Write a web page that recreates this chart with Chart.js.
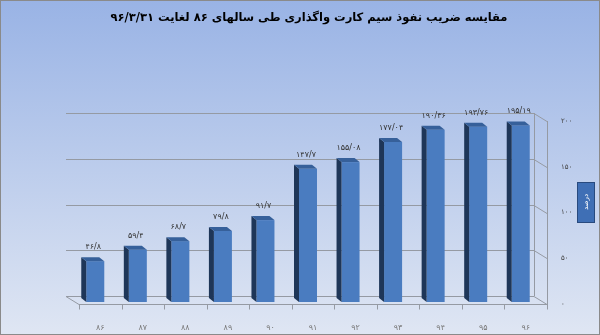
<!DOCTYPE html>
<html>
<head>
<meta charset="utf-8">
<script src="https://cdn.jsdelivr.net/npm/chart.js@4"></script>
<style>
  html, body { margin: 0; padding: 0; background: #fff; }
  #wrap { width: 600px; height: 335px; }
</style>
</head>
<body>
<div id="wrap"><canvas id="chart" width="600" height="335"></canvas></div>
<script>
// categories (years) and values
const years = ['۸۶', '۸۷', '۸۸', '۸۹', '۹۰', '۹۱', '۹۲', '۹۳', '۹۴', '۹۵', '۹۶'];
const penetration = [46.8, 59.4, 68.7, 79.8, 91.7, 147.7, 155.08, 177.04, 190.36, 193.76, 195.19];
const yTicks = [0, 50, 100, 150, 200];
const titleText = 'مقایسه ضریب نفوذ سیم کارت واگذاری طی سالهای ۸۶ لغایت ۹۶/۳/۳۱';
const axisTitle = 'درصد';

const FONT = '"DejaVu Sans", sans-serif';
const fa = s => String(s).replace(/[0-9]/g, d => '۰۱۲۳۴۵۶۷۸۹'[d]).replace('.', '/');

// depth offset of the back wall
const DX = -13, DY = -8;

const bgPlugin = {
  id: 'bg',
  beforeDraw(chart) {
    const ctx = chart.ctx;
    const g = ctx.createLinearGradient(0, 0, 0, 335);
    g.addColorStop(0, '#99b3e5');
    g.addColorStop(1, '#dfe6f3');
    ctx.save();
    ctx.fillStyle = g;
    ctx.fillRect(0, 0, 600, 335);
    ctx.strokeStyle = '#8a8a8a';
    ctx.lineWidth = 1;
    ctx.strokeRect(0.5, 0.5, 599, 334);
    ctx.restore();
  }
};

const wallPlugin = {
  id: 'wall',
  beforeDatasetsDraw(chart) {
    const ctx = chart.ctx, a = chart.chartArea, y = chart.scales.y;
    ctx.save();
    ctx.strokeStyle = '#959aa3';
    ctx.lineWidth = 1;
    // back gridlines and right connectors
    yTicks.forEach(v => {
      const py = Math.round(y.getPixelForValue(v)) + 0.5;
      ctx.beginPath();
      ctx.moveTo(a.left + DX, py + DY);
      ctx.lineTo(a.right + DX, py + DY);
      ctx.lineTo(a.right, py);
      ctx.stroke();
    });
    // back and front right verticals
    ctx.beginPath();
    ctx.moveTo(a.right + DX + 0.5, y.getPixelForValue(200) + DY);
    ctx.lineTo(a.right + DX + 0.5, y.getPixelForValue(0) + DY);
    ctx.moveTo(a.right + 0.5, y.getPixelForValue(200));
    ctx.lineTo(a.right + 0.5, y.getPixelForValue(0) + 5);
    ctx.stroke();
    // floor
    const b = Math.round(y.getPixelForValue(0)) + 0.5;
    ctx.beginPath();
    ctx.moveTo(a.left + DX, b + DY);
    ctx.lineTo(a.left, b);
    ctx.lineTo(a.right, b);
    ctx.stroke();
    // category ticks
    for (let i = 0; i <= years.length; i++) {
      const px = Math.round(a.left + i * (a.right - a.left) / years.length) + 0.5;
      ctx.beginPath();
      ctx.moveTo(px, b);
      ctx.lineTo(px, b + 5);
      ctx.stroke();
    }
    ctx.restore();
  }
};

const barPlugin = {
  id: 'bars3d',
  afterDatasetsDraw(chart) {
    const ctx = chart.ctx;
    const meta = chart.getDatasetMeta(0);
    ctx.save();
    meta.data.forEach((el, i) => {
      const cx = el.x - 5;
      const l = cx - 9, r = cx + 9, t = el.y, bot = el.base - 2;
      const d = 5, dy = 4;
      // front face
      ctx.fillStyle = '#4a7cc0';
      ctx.fillRect(l, t, r - l, bot - t);
      // dark left side
      ctx.fillStyle = '#1e3658';
      ctx.beginPath();
      ctx.moveTo(l - d, t - dy);
      ctx.lineTo(l, t);
      ctx.lineTo(l, bot);
      ctx.lineTo(l - d, bot - dy);
      ctx.closePath();
      ctx.fill();
      // top cap
      ctx.fillStyle = '#36609a';
      ctx.beginPath();
      ctx.moveTo(l - d, t - dy);
      ctx.lineTo(r - d, t - dy);
      ctx.lineTo(r, t);
      ctx.lineTo(l, t);
      ctx.closePath();
      ctx.fill();
      // value label
      ctx.fillStyle = '#333';
      ctx.font = '8px ' + FONT;
      ctx.textAlign = 'center';
      ctx.textBaseline = 'bottom';
      ctx.fillText(fa(penetration[i]), cx - 2, t - 10);
    });
    ctx.restore();
  }
};

const textPlugin = {
  id: 'texts',
  afterDraw(chart) {
    const ctx = chart.ctx;
    ctx.save();
    ctx.fillStyle = '#000';
    ctx.font = 'bold 11.5px ' + FONT;
    ctx.direction = 'rtl';
    ctx.textAlign = 'center';
    ctx.textBaseline = 'middle';
    ctx.fillText(titleText, 309, 18);
    // axis title box
    ctx.fillStyle = '#3f6fb5';
    ctx.fillRect(577, 182, 18, 41);
    ctx.strokeStyle = '#284a7e';
    ctx.lineWidth = 1;
    ctx.strokeRect(577.5, 182.5, 17, 40);
    ctx.translate(586, 202);
    ctx.rotate(-Math.PI / 2);
    ctx.fillStyle = '#fff';
    ctx.font = '7px ' + FONT;
    ctx.fillText(axisTitle, 0, 0);
    ctx.restore();
  }
};

new Chart(document.getElementById('chart'), {
  type: 'bar',
  data: {
    labels: years,
    datasets: [{
      data: penetration,
      backgroundColor: 'rgba(0,0,0,0)',
      borderWidth: 0,
      categoryPercentage: 0.5,
      barPercentage: 1
    }]
  },
  options: {
    responsive: false,
    animation: false,
    events: [],
    layout: { padding: { left: 79, right: 0, top: 121, bottom: 0 } },
    plugins: { legend: { display: false }, tooltip: { enabled: false } },
    scales: {
      x: {
        grid: { display: false },
        border: { display: false },
        ticks: { color: '#777', font: { family: FONT, size: 8 }, padding: 11, maxRotation: 0 },
        afterFit(s) { s.height = 31; }
      },
      y: {
        position: 'right',
        min: 0,
        max: 200,
        grid: { display: false, drawTicks: false },
        border: { display: false },
        afterBuildTicks(s) { s.ticks = yTicks.map(v => ({ value: v })); },
        ticks: {
          color: '#444',
          font: { family: FONT, size: 7 },
          padding: 14,
          callback: v => fa(v)
        },
        afterFit(s) { s.width = 53; }
      }
    }
  },
  plugins: [bgPlugin, wallPlugin, barPlugin, textPlugin]
});
</script>
</body>
</html>
